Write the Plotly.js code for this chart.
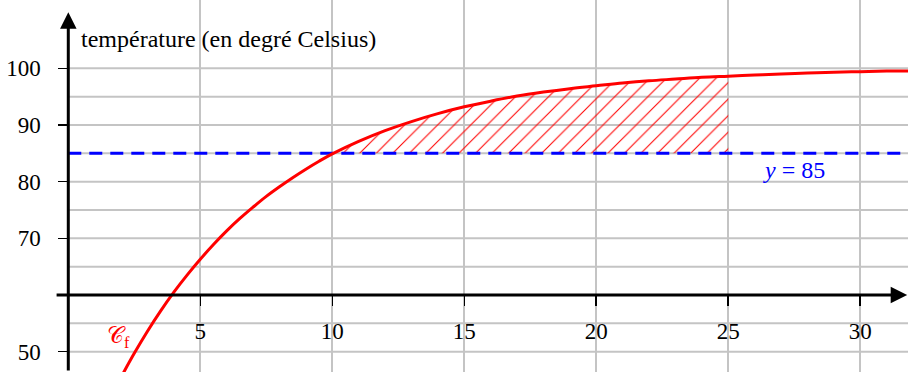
<!DOCTYPE html>
<html>
<head>
<meta charset="utf-8">
<script src="https://cdn.plot.ly/plotly-3.0.1.min.js"></script>
</head>
<body style="margin:0;padding:0;background:#fff;">
<div id="plotdiv" style="width:908px;height:372px;"></div>
<script>
// time (minutes) and temperature
const timeMin = [2, 2.5, 3, 3.5, 4, 4.5, 5, 5.5, 6, 6.5, 7, 7.5, 8, 8.5, 9, 9.5, 10, 11, 12, 13, 14, 15, 16, 17, 18, 19, 20, 21, 22, 23, 24, 25, 26, 27, 28, 29, 30, 31, 32];
const temperature = [45.5, 49.7, 53.6, 57.2, 60.5, 63.5, 66.3, 68.9, 71.3, 73.5, 75.5, 77.4, 79.1, 80.7, 82.2, 83.6, 84.9, 87.1, 89.0, 90.6, 92.0, 93.2, 94.2, 95.1, 95.8, 96.4, 96.9, 97.4, 97.8, 98.1, 98.4, 98.6, 98.8, 99.0, 99.15, 99.3, 99.4, 99.5, 99.55];
const threshold = 85;
const hatchStart = 10, hatchEnd = 25;
const xTicks = [5, 10, 15, 20, 25, 30];
const yTicks = [50, 70, 80, 90, 100];
const yGrid = [50, 55, 65, 70, 75, 80, 85, 90, 95, 100];

const xr = [-2.587, 31.81];
const yr = [46.41, 112.05];

// hatched region between curve and y = 85 for t in [10, 25]
const hx = [], hy = [];
for (let i = 0; i < timeMin.length; i++) {
  if (timeMin[i] >= hatchStart && timeMin[i] <= hatchEnd) { hx.push(timeMin[i]); hy.push(temperature[i]); }
}
hx.push(hatchEnd, hatchStart); hy.push(threshold, threshold);

const FAM = 'Liberation Serif';

const traces = [
  {x: hx, y: hy, type: 'scatter', mode: 'lines', fill: 'toself', line: {width: 0, color: 'rgba(0,0,0,0)'},
   fillcolor: 'rgba(0,0,0,0)',
   fillpattern: {shape: '/', fgcolor: '#ff0000', bgcolor: 'rgba(0,0,0,0)', size: 11.7, solidity: 0.09},
   hoverinfo: 'skip'},
  {x: [0, xr[1]], y: [threshold, threshold], type: 'scatter', mode: 'lines',
   line: {color: '#0000ff', width: 3, dash: '13px,8px'}},
  {x: timeMin, y: temperature, type: 'scatter', mode: 'lines', line: {color: '#ff0000', width: 3, shape: 'spline'}}
];

const shapes = yGrid.map(v => ({type: 'line', xref: 'x', yref: 'y', x0: 0, x1: xr[1], y0: v, y1: v,
  line: {color: '#c4c4c4', width: 2}, layer: 'below'}));

const layout = {
  width: 908, height: 372,
  margin: {l: 0, r: 0, t: 0, b: 0},
  paper_bgcolor: '#fff', plot_bgcolor: '#fff',
  showlegend: false,
  font: {family: FAM, size: 23, color: '#000'},
  xaxis: {
    range: xr, anchor: 'free', position: (60 - yr[0]) / (yr[1] - yr[0]),
    tickmode: 'array', tickvals: xTicks, ticktext: xTicks.map(String),
    ticks: 'outside', ticklen: 10, tickwidth: 1.5, tickcolor: '#000',
    ticklabelstandoff: 5,
    showgrid: true, gridcolor: '#c4c4c4', gridwidth: 2,
    zeroline: false, showline: false,
    tickfont: {family: FAM, size: 23, color: '#000'}
  },
  yaxis: {
    range: yr, anchor: 'free', position: (0 - xr[0]) / (xr[1] - xr[0]),
    tickmode: 'array', tickvals: yTicks, ticktext: yTicks.map(String),
    ticks: 'outside', ticklen: 10, tickwidth: 1.5, tickcolor: '#000',
    ticklabelstandoff: 13,
    showgrid: false,
    zeroline: false, showline: false,
    tickfont: {family: FAM, size: 23, color: '#000'}
  },
  shapes: shapes,
  annotations: [
    {x: xr[1] - 0.03, y: 60, ax: -0.5, ay: 60, xref: 'x', yref: 'y', axref: 'x', ayref: 'y',
     showarrow: true, arrowhead: 2, arrowsize: 1.1, arrowwidth: 3, arrowcolor: '#000', text: '', standoff: 0},
    {x: 0, y: 109.9, ax: 0, ay: yr[0], xref: 'x', yref: 'y', axref: 'x', ayref: 'y',
     showarrow: true, arrowhead: 2, arrowsize: 1.1, arrowwidth: 3, arrowcolor: '#000', text: '', standoff: 0},
    {x: 0, y: 105.2, xref: 'x', yref: 'y', xanchor: 'left', yanchor: 'middle', xshift: 11,
     text: 'température (en degré Celsius)', showarrow: false, font: {family: FAM, size: 24, color: '#000'}},
    {x: 27.5, y: 82.1, xref: 'x', yref: 'y', xanchor: 'center', yanchor: 'middle',
     text: '<i>y</i> = 85', showarrow: false, font: {family: FAM, size: 24, color: '#0000ff'}},
    {x: 1.9, y: 52.6, xref: 'x', yref: 'y', xanchor: 'center', yanchor: 'middle',
     text: '𝒞<sub>f</sub>', showarrow: false, font: {family: FAM, size: 23, color: '#ff0000'}}
  ]
};

Plotly.newPlot('plotdiv', traces, layout, {staticPlot: true, displayModeBar: false});
</script>
</body>
</html>
